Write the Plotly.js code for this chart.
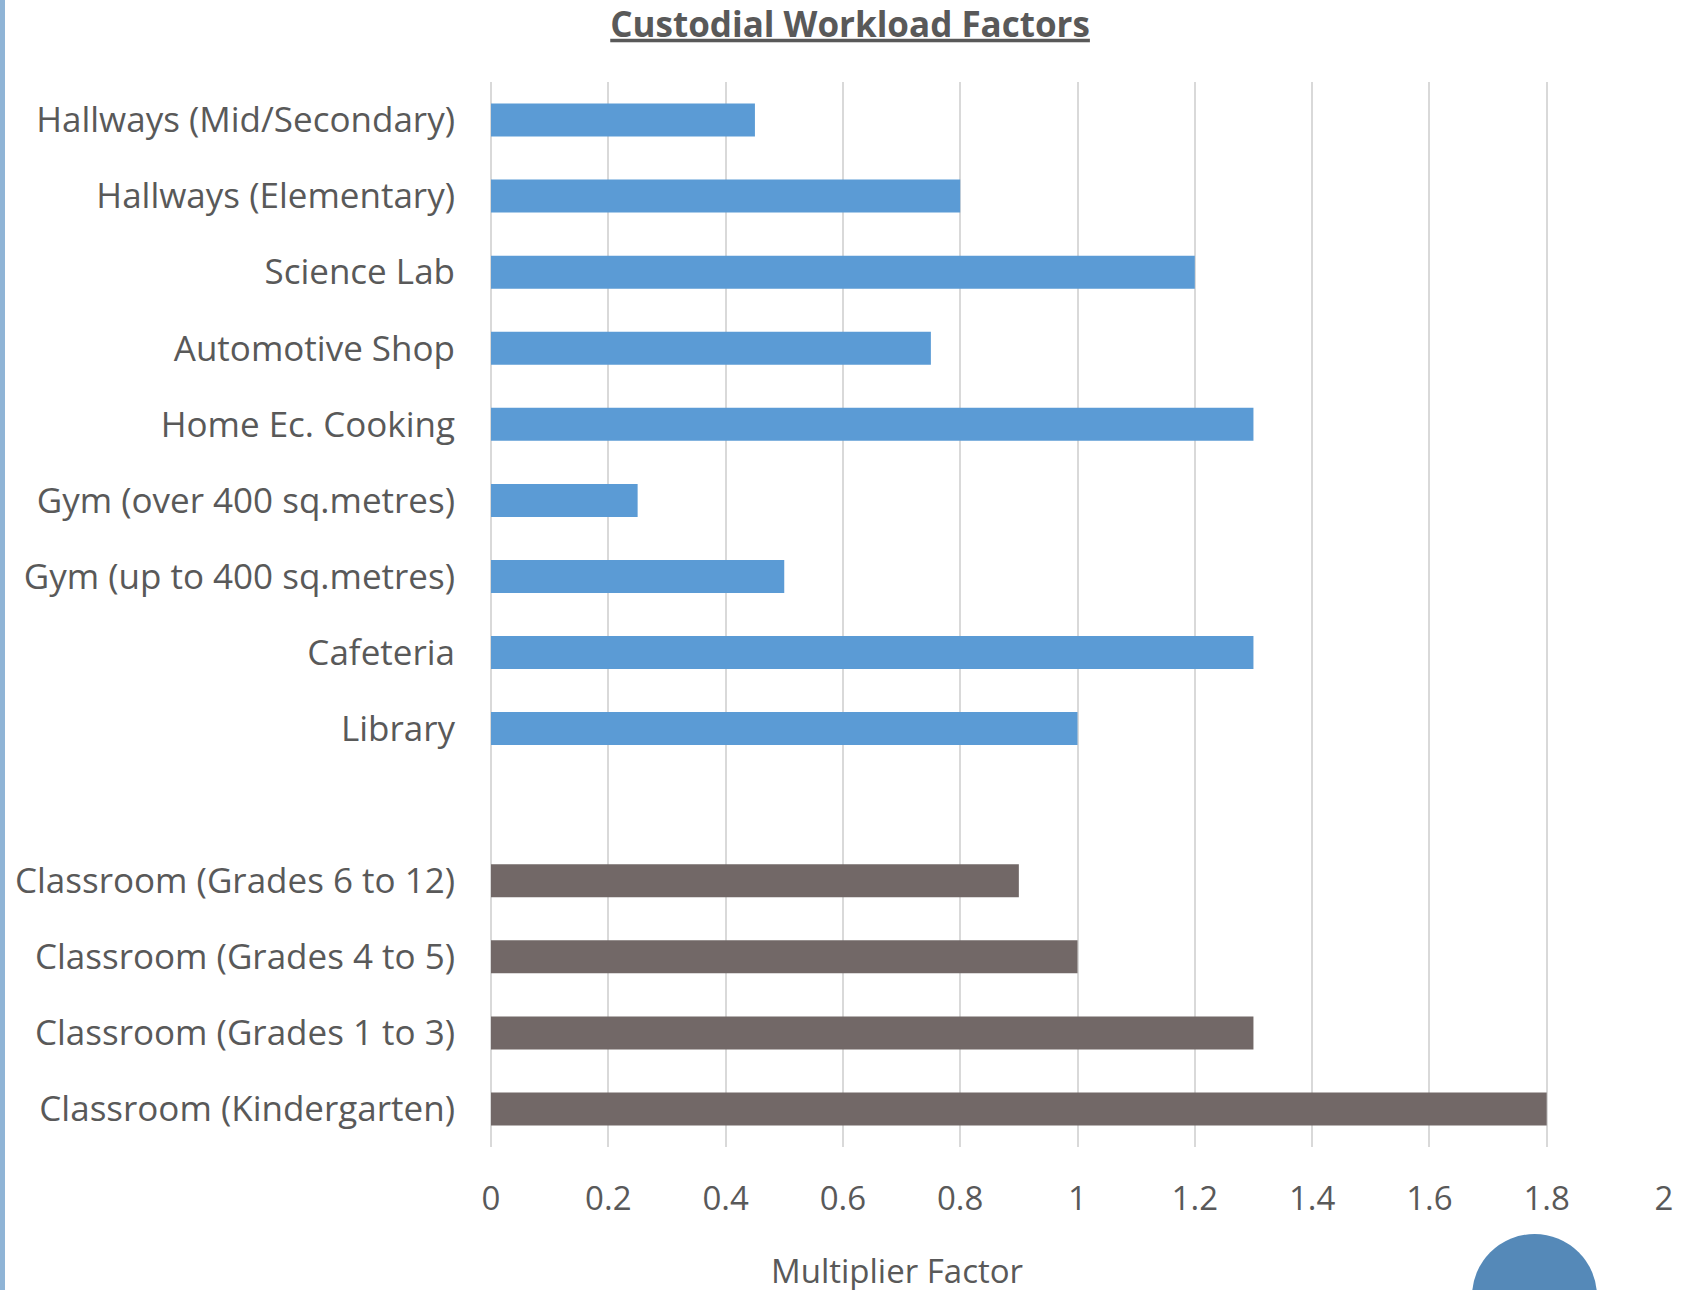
<!DOCTYPE html>
<html>
<head>
<meta charset="utf-8">
<script src="https://cdn.plot.ly/plotly-3.0.1.min.js"></script>
<style>
  html, body { margin: 0; padding: 0; background: #ffffff; }
  #wrap { position: relative; width: 1682px; height: 1290px; overflow: hidden; }
  #chart { position: absolute; left: 0; top: 0; width: 1682px; height: 1290px; }
  #edge { position: absolute; left: 0; top: 0; width: 5px; height: 1290px; background: #8fb4d6; }
  #badge { position: absolute; left: 1472px; top: 1234px; width: 125px; height: 125px;
           border-radius: 50%; background: #5589b8; }
</style>
</head>
<body>
<div id="wrap">
  <div id="chart"></div>
  <div id="edge"></div>
  <div id="badge"></div>
</div>
<script>
// Space types, top to bottom; the blank entry separates the two groups
const categoryOrder = [
  'Hallways (Mid/Secondary)',
  'Hallways (Elementary)',
  'Science Lab',
  'Automotive Shop',
  'Home Ec. Cooking',
  'Gym (over 400 sq.metres)',
  'Gym (up to 400 sq.metres)',
  'Cafeteria',
  'Library',
  ' ',
  'Classroom (Grades 6 to 12)',
  'Classroom (Grades 4 to 5)',
  'Classroom (Grades 1 to 3)',
  'Classroom (Kindergarten)'
];

// Specialty spaces
const specialtySpaces = [
  'Hallways (Mid/Secondary)',
  'Hallways (Elementary)',
  'Science Lab',
  'Automotive Shop',
  'Home Ec. Cooking',
  'Gym (over 400 sq.metres)',
  'Gym (up to 400 sq.metres)',
  'Cafeteria',
  'Library'
];
const specialtyFactors = [0.45, 0.8, 1.2, 0.75, 1.3, 0.25, 0.5, 1.3, 1.0];

// Classrooms
const classroomSpaces = [
  'Classroom (Grades 6 to 12)',
  'Classroom (Grades 4 to 5)',
  'Classroom (Grades 1 to 3)',
  'Classroom (Kindergarten)'
];
const classroomFactors = [0.9, 1.0, 1.3, 1.8];

const xTickValues = [0, 0.2, 0.4, 0.6, 0.8, 1, 1.2, 1.4, 1.6, 1.8, 2];

const textColor = '#595959';
const fontFamily = '"Open Sans", Lato, sans-serif';

const traces = [
  {
    type: 'bar',
    orientation: 'h',
    y: specialtySpaces,
    x: specialtyFactors,
    marker: { color: '#5b9bd5', line: { width: 0 } },
    hoverinfo: 'y+x'
  },
  {
    type: 'bar',
    orientation: 'h',
    y: classroomSpaces,
    x: classroomFactors,
    marker: { color: '#726867', line: { width: 0 } },
    hoverinfo: 'y+x'
  }
];

const layout = {
  width: 1682,
  height: 1290,
  margin: { l: 491, r: 18, t: 82, b: 143 },
  paper_bgcolor: '#ffffff',
  plot_bgcolor: '#ffffff',
  showlegend: false,
  barmode: 'overlay',
  bargap: 0.566,
  font: { family: fontFamily, color: textColor, size: 34 },
  title: {
    text: '<b>Custodial Workload Factors</b>',
    font: { family: fontFamily, size: 35, color: textColor, lineposition: 'under' },
    xref: 'container', x: 0.5054, xanchor: 'center',
    yref: 'container', y: 0.981, yanchor: 'middle'
  },
  xaxis: {
    range: [0, 2],
    tickmode: 'array',
    tickvals: xTickValues,
    ticktext: xTickValues.map(String),
    showgrid: true,
    gridcolor: '#d9d9d9',
    gridwidth: 2,
    zeroline: true,
    zerolinecolor: '#d9d9d9',
    zerolinewidth: 2,
    showline: false,
    ticks: '',
    ticklabelstandoff: 29,
    tickfont: { family: fontFamily, size: 33, color: textColor },
    fixedrange: true
  },
  yaxis: {
    type: 'category',
    categoryorder: 'array',
    categoryarray: categoryOrder,
    range: [categoryOrder.length - 0.5, -0.5],
    showgrid: false,
    zeroline: false,
    showline: false,
    ticks: '',
    ticklabelstandoff: 35,
    tickfont: { family: fontFamily, size: 35, color: textColor },
    fixedrange: true
  },
  annotations: [
    {
      text: 'Multiplier Factor',
      xref: 'paper', yref: 'paper',
      x: 0.346, y: -0.1164,
      xanchor: 'center', yanchor: 'middle',
      showarrow: false,
      font: { family: fontFamily, size: 33, color: textColor }
    }
  ]
};

Plotly.newPlot('chart', traces, layout, { displayModeBar: false, staticPlot: true });
</script>
</body>
</html>
